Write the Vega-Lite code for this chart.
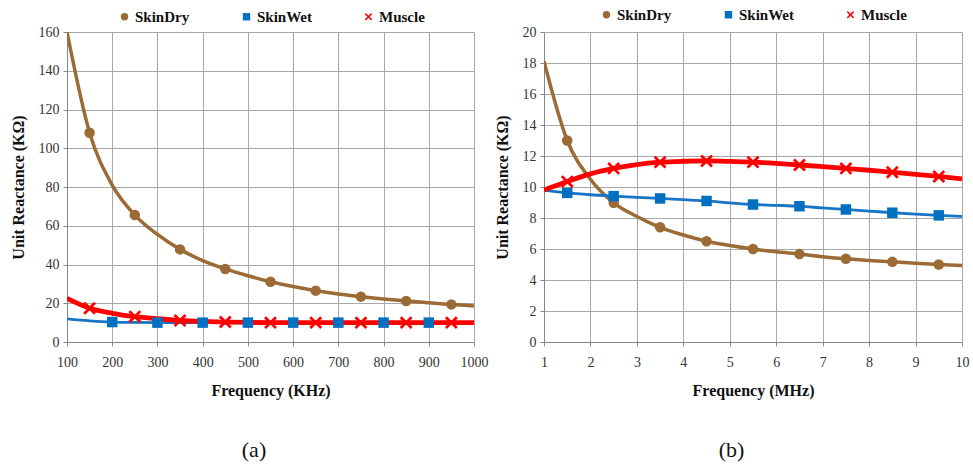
{
  "$schema": "https://vega.github.io/schema/vega-lite/v6.json",
  "padding": {"left": 10, "top": 7, "right": 5, "bottom": 5},
  "background": "white",
  "spacing": 6,
  "datasets": {
    "khz": [
      {"f": 100, "v": 160, "s": "SkinDry", "m": 0},
      {"f": 150, "v": 108, "s": "SkinDry", "m": 1},
      {"f": 200, "v": 81, "s": "SkinDry", "m": 0},
      {"f": 250, "v": 65.5, "s": "SkinDry", "m": 1},
      {"f": 300, "v": 55.5, "s": "SkinDry", "m": 0},
      {"f": 350, "v": 47.8, "s": "SkinDry", "m": 1},
      {"f": 400, "v": 42, "s": "SkinDry", "m": 0},
      {"f": 450, "v": 37.7, "s": "SkinDry", "m": 1},
      {"f": 500, "v": 34.2, "s": "SkinDry", "m": 0},
      {"f": 550, "v": 31.1, "s": "SkinDry", "m": 1},
      {"f": 600, "v": 28.6, "s": "SkinDry", "m": 0},
      {"f": 650, "v": 26.5, "s": "SkinDry", "m": 1},
      {"f": 700, "v": 24.8, "s": "SkinDry", "m": 0},
      {"f": 750, "v": 23.4, "s": "SkinDry", "m": 1},
      {"f": 800, "v": 22.2, "s": "SkinDry", "m": 0},
      {"f": 850, "v": 21.2, "s": "SkinDry", "m": 1},
      {"f": 900, "v": 20.2, "s": "SkinDry", "m": 0},
      {"f": 950, "v": 19.4, "s": "SkinDry", "m": 1},
      {"f": 1000, "v": 18.6, "s": "SkinDry", "m": 0},
      {"f": 100, "v": 11.9, "s": "SkinWet", "m": 0},
      {"f": 150, "v": 10.9, "s": "SkinWet", "m": 0},
      {"f": 200, "v": 10.3, "s": "SkinWet", "m": 1},
      {"f": 250, "v": 10.1, "s": "SkinWet", "m": 0},
      {"f": 300, "v": 10, "s": "SkinWet", "m": 1},
      {"f": 350, "v": 10, "s": "SkinWet", "m": 0},
      {"f": 400, "v": 10, "s": "SkinWet", "m": 1},
      {"f": 450, "v": 10, "s": "SkinWet", "m": 0},
      {"f": 500, "v": 10, "s": "SkinWet", "m": 1},
      {"f": 550, "v": 10, "s": "SkinWet", "m": 0},
      {"f": 600, "v": 10, "s": "SkinWet", "m": 1},
      {"f": 650, "v": 10, "s": "SkinWet", "m": 0},
      {"f": 700, "v": 10, "s": "SkinWet", "m": 1},
      {"f": 750, "v": 10, "s": "SkinWet", "m": 0},
      {"f": 800, "v": 10, "s": "SkinWet", "m": 1},
      {"f": 850, "v": 10, "s": "SkinWet", "m": 0},
      {"f": 900, "v": 10, "s": "SkinWet", "m": 1},
      {"f": 950, "v": 10, "s": "SkinWet", "m": 0},
      {"f": 1000, "v": 10, "s": "SkinWet", "m": 0},
      {"f": 100, "v": 22.5, "s": "Muscle", "m": 0},
      {"f": 150, "v": 17.4, "s": "Muscle", "m": 1},
      {"f": 200, "v": 14.8, "s": "Muscle", "m": 0},
      {"f": 250, "v": 13.1, "s": "Muscle", "m": 1},
      {"f": 300, "v": 12, "s": "Muscle", "m": 0},
      {"f": 350, "v": 11.1, "s": "Muscle", "m": 1},
      {"f": 400, "v": 10.6, "s": "Muscle", "m": 0},
      {"f": 450, "v": 10.3, "s": "Muscle", "m": 1},
      {"f": 500, "v": 10.1, "s": "Muscle", "m": 0},
      {"f": 550, "v": 10, "s": "Muscle", "m": 1},
      {"f": 600, "v": 10, "s": "Muscle", "m": 0},
      {"f": 650, "v": 10, "s": "Muscle", "m": 1},
      {"f": 700, "v": 10, "s": "Muscle", "m": 0},
      {"f": 750, "v": 10, "s": "Muscle", "m": 1},
      {"f": 800, "v": 10, "s": "Muscle", "m": 0},
      {"f": 850, "v": 10, "s": "Muscle", "m": 1},
      {"f": 900, "v": 10, "s": "Muscle", "m": 0},
      {"f": 950, "v": 10, "s": "Muscle", "m": 1},
      {"f": 1000, "v": 10, "s": "Muscle", "m": 0}
    ],
    "mhz": [
      {"f": 1, "v": 18.1, "s": "SkinDry", "m": 0},
      {"f": 1.5, "v": 13, "s": "SkinDry", "m": 1},
      {"f": 2, "v": 10.5, "s": "SkinDry", "m": 0},
      {"f": 2.5, "v": 8.98, "s": "SkinDry", "m": 1},
      {"f": 3, "v": 8.1, "s": "SkinDry", "m": 0},
      {"f": 3.5, "v": 7.4, "s": "SkinDry", "m": 1},
      {"f": 4, "v": 6.9, "s": "SkinDry", "m": 0},
      {"f": 4.5, "v": 6.5, "s": "SkinDry", "m": 1},
      {"f": 5, "v": 6.22, "s": "SkinDry", "m": 0},
      {"f": 5.5, "v": 6.0, "s": "SkinDry", "m": 1},
      {"f": 6, "v": 5.82, "s": "SkinDry", "m": 0},
      {"f": 6.5, "v": 5.67, "s": "SkinDry", "m": 1},
      {"f": 7, "v": 5.5, "s": "SkinDry", "m": 0},
      {"f": 7.5, "v": 5.37, "s": "SkinDry", "m": 1},
      {"f": 8, "v": 5.26, "s": "SkinDry", "m": 0},
      {"f": 8.5, "v": 5.17, "s": "SkinDry", "m": 1},
      {"f": 9, "v": 5.08, "s": "SkinDry", "m": 0},
      {"f": 9.5, "v": 5.0, "s": "SkinDry", "m": 1},
      {"f": 10, "v": 4.93, "s": "SkinDry", "m": 0},
      {"f": 1, "v": 9.8, "s": "SkinWet", "m": 0},
      {"f": 1.5, "v": 9.62, "s": "SkinWet", "m": 1},
      {"f": 2, "v": 9.5, "s": "SkinWet", "m": 0},
      {"f": 2.5, "v": 9.41, "s": "SkinWet", "m": 1},
      {"f": 3, "v": 9.33, "s": "SkinWet", "m": 0},
      {"f": 3.5, "v": 9.26, "s": "SkinWet", "m": 1},
      {"f": 4, "v": 9.18, "s": "SkinWet", "m": 0},
      {"f": 4.5, "v": 9.1, "s": "SkinWet", "m": 1},
      {"f": 5, "v": 8.98, "s": "SkinWet", "m": 0},
      {"f": 5.5, "v": 8.87, "s": "SkinWet", "m": 1},
      {"f": 6, "v": 8.82, "s": "SkinWet", "m": 0},
      {"f": 6.5, "v": 8.76, "s": "SkinWet", "m": 1},
      {"f": 7, "v": 8.65, "s": "SkinWet", "m": 0},
      {"f": 7.5, "v": 8.55, "s": "SkinWet", "m": 1},
      {"f": 8, "v": 8.45, "s": "SkinWet", "m": 0},
      {"f": 8.5, "v": 8.34, "s": "SkinWet", "m": 1},
      {"f": 9, "v": 8.25, "s": "SkinWet", "m": 0},
      {"f": 9.5, "v": 8.17, "s": "SkinWet", "m": 1},
      {"f": 10, "v": 8.1, "s": "SkinWet", "m": 0},
      {"f": 1, "v": 9.8, "s": "Muscle", "m": 0},
      {"f": 1.5, "v": 10.35, "s": "Muscle", "m": 1},
      {"f": 2, "v": 10.85, "s": "Muscle", "m": 0},
      {"f": 2.5, "v": 11.2, "s": "Muscle", "m": 1},
      {"f": 3, "v": 11.45, "s": "Muscle", "m": 0},
      {"f": 3.5, "v": 11.6, "s": "Muscle", "m": 1},
      {"f": 4, "v": 11.66, "s": "Muscle", "m": 0},
      {"f": 4.5, "v": 11.68, "s": "Muscle", "m": 1},
      {"f": 5, "v": 11.65, "s": "Muscle", "m": 0},
      {"f": 5.5, "v": 11.6, "s": "Muscle", "m": 1},
      {"f": 6, "v": 11.52, "s": "Muscle", "m": 0},
      {"f": 6.5, "v": 11.42, "s": "Muscle", "m": 1},
      {"f": 7, "v": 11.32, "s": "Muscle", "m": 0},
      {"f": 7.5, "v": 11.2, "s": "Muscle", "m": 1},
      {"f": 8, "v": 11.08, "s": "Muscle", "m": 0},
      {"f": 8.5, "v": 10.95, "s": "Muscle", "m": 1},
      {"f": 9, "v": 10.82, "s": "Muscle", "m": 0},
      {"f": 9.5, "v": 10.68, "s": "Muscle", "m": 1},
      {"f": 10, "v": 10.52, "s": "Muscle", "m": 0}
    ]
  },
  "hconcat": [
    {
      "width": 407,
      "height": 310,
      "data": {"name": "khz"},
      "title": {"text": "(a)", "orient": "bottom", "offset": 42, "frame": "bounds", "dx": 5},
      "encoding": {
        "x": {"field": "f", "type": "quantitative", "scale": {"domain": [100, 1000], "nice": false, "zero": false},
              "axis": {"values": [100, 200, 300, 400, 500, 600, 700, 800, 900, 1000], "format": "d", "title": "Frequency (KHz)"}},
        "y": {"field": "v", "type": "quantitative", "scale": {"domain": [0, 160], "nice": false},
              "axis": {"values": [0, 20, 40, 60, 80, 100, 120, 140, 160], "format": "d", "title": "Unit Reactance (KΩ)"}}
      },
      "layer": [
        {
          "mark": {"type": "line", "interpolate": "monotone", "clip": true},
          "encoding": {
            "detail": {"field": "s", "type": "nominal", "sort": ["SkinDry", "SkinWet", "Muscle"]},
            "stroke": {"condition": [{"test": "datum.s === 'SkinDry'", "value": "#9B6A35"}, {"test": "datum.s === 'Muscle'", "value": "#FF0000"}], "value": "#1874C4"},
            "strokeWidth": {"condition": [{"test": "datum.s === 'SkinDry'", "value": 3.5}, {"test": "datum.s === 'Muscle'", "value": 4.8}], "value": 2.8}
          }
        },
        {
          "transform": [{"filter": "datum.m == 1"}],
          "mark": {"type": "point", "filled": true, "opacity": 1},
          "encoding": {
            "size": {"condition": {"test": "datum.s === 'Muscle'", "value": 165}, "value": 110},
            "fill": {"field": "s", "type": "nominal", "scale": {"domain": ["SkinDry", "SkinWet", "Muscle"], "range": ["#9B6A35", "#0070C0", "#FF0000"]},
                     "legend": {"orient": "none", "legendX": 50, "legendY": -23, "direction": "horizontal", "columns": 3, "title": null}},
            "shape": {"field": "s", "type": "nominal", "scale": {"domain": ["SkinDry", "SkinWet", "Muscle"], "range": ["circle", "square", "M-1,-0.7L-0.7,-1L0,-0.3L0.7,-1L1,-0.7L0.3,0L1,0.7L0.7,1L0,0.3L-0.7,1L-1,0.7L-0.3,0Z"]},
                      "legend": {"orient": "none", "legendX": 50, "legendY": -23, "direction": "horizontal", "columns": 3, "title": null}}
          }
        }
      ]
    },
    {
      "width": 418,
      "height": 310,
      "data": {"name": "mhz"},
      "title": {"text": "(b)", "orient": "bottom", "offset": 42, "frame": "bounds"},
      "encoding": {
        "x": {"field": "f", "type": "quantitative", "scale": {"domain": [1, 10], "nice": false, "zero": false},
              "axis": {"values": [1, 2, 3, 4, 5, 6, 7, 8, 9, 10], "format": "d", "title": "Frequency (MHz)"}},
        "y": {"field": "v", "type": "quantitative", "scale": {"domain": [0, 20], "nice": false},
              "axis": {"values": [0, 2, 4, 6, 8, 10, 12, 14, 16, 18, 20], "format": "d", "title": "Unit Reactance  (KΩ)"}}
      },
      "layer": [
        {
          "mark": {"type": "line", "interpolate": "monotone", "clip": true},
          "encoding": {
            "detail": {"field": "s", "type": "nominal", "sort": ["SkinDry", "SkinWet", "Muscle"]},
            "stroke": {"condition": [{"test": "datum.s === 'SkinDry'", "value": "#9B6A35"}, {"test": "datum.s === 'Muscle'", "value": "#FF0000"}], "value": "#1874C4"},
            "strokeWidth": {"condition": [{"test": "datum.s === 'SkinDry'", "value": 3.5}, {"test": "datum.s === 'Muscle'", "value": 4.8}], "value": 2.8}
          }
        },
        {
          "transform": [{"filter": "datum.m == 1"}],
          "mark": {"type": "point", "filled": true, "opacity": 1},
          "encoding": {
            "size": {"condition": {"test": "datum.s === 'Muscle'", "value": 165}, "value": 110},
            "fill": {"field": "s", "type": "nominal", "scale": {"domain": ["SkinDry", "SkinWet", "Muscle"], "range": ["#9B6A35", "#0070C0", "#FF0000"]},
                     "legend": {"orient": "none", "legendX": 55, "legendY": -25, "direction": "horizontal", "columns": 3, "title": null}},
            "shape": {"field": "s", "type": "nominal", "scale": {"domain": ["SkinDry", "SkinWet", "Muscle"], "range": ["circle", "square", "M-1,-0.7L-0.7,-1L0,-0.3L0.7,-1L1,-0.7L0.3,0L1,0.7L0.7,1L0,0.3L-0.7,1L-1,0.7L-0.3,0Z"]},
                      "legend": {"orient": "none", "legendX": 55, "legendY": -25, "direction": "horizontal", "columns": 3, "title": null}}
          }
        }
      ]
    }
  ],
  "resolve": {
    "scale": {"fill": "independent", "shape": "independent", "x": "independent", "y": "independent"},
    "legend": {"fill": "independent", "shape": "independent"}
  },
  "config": {
    "font": "Liberation Serif, DejaVu Serif, serif",
    "view": {"stroke": null},
    "axis": {
      "labelFont": "Liberation Serif, DejaVu Serif, serif",
      "labelFontSize": 14,
      "labelColor": "#333333",
      "titleFont": "Liberation Serif, DejaVu Serif, serif",
      "titleFontSize": 16,
      "titleFontWeight": "bold",
      "titleColor": "#111111",
      "gridColor": "#a8a8a8",
      "gridWidth": 1,
      "domainColor": "#868686",
      "tickColor": "#868686",
      "tickSize": 4,
      "labelPadding": 4,
      "titlePadding": 12,
      "labelFlush": false,
      "labelOverlap": false
    },
    "axisX": {"labelPadding": 9, "titlePadding": 13},
    "legend": {
      "labelFont": "Liberation Serif, DejaVu Serif, serif",
      "labelFontSize": 15,
      "labelFontWeight": "bold",
      "labelColor": "#111111",
      "symbolSize": 55,
      "symbolStrokeWidth": 0,
      "labelOffset": 3,
      "columnPadding": 48,
      "gridAlign": "all"
    },
    "title": {"font": "Liberation Serif, DejaVu Serif, serif", "fontSize": 22, "fontWeight": "normal", "color": "#111111"}
  }
}
